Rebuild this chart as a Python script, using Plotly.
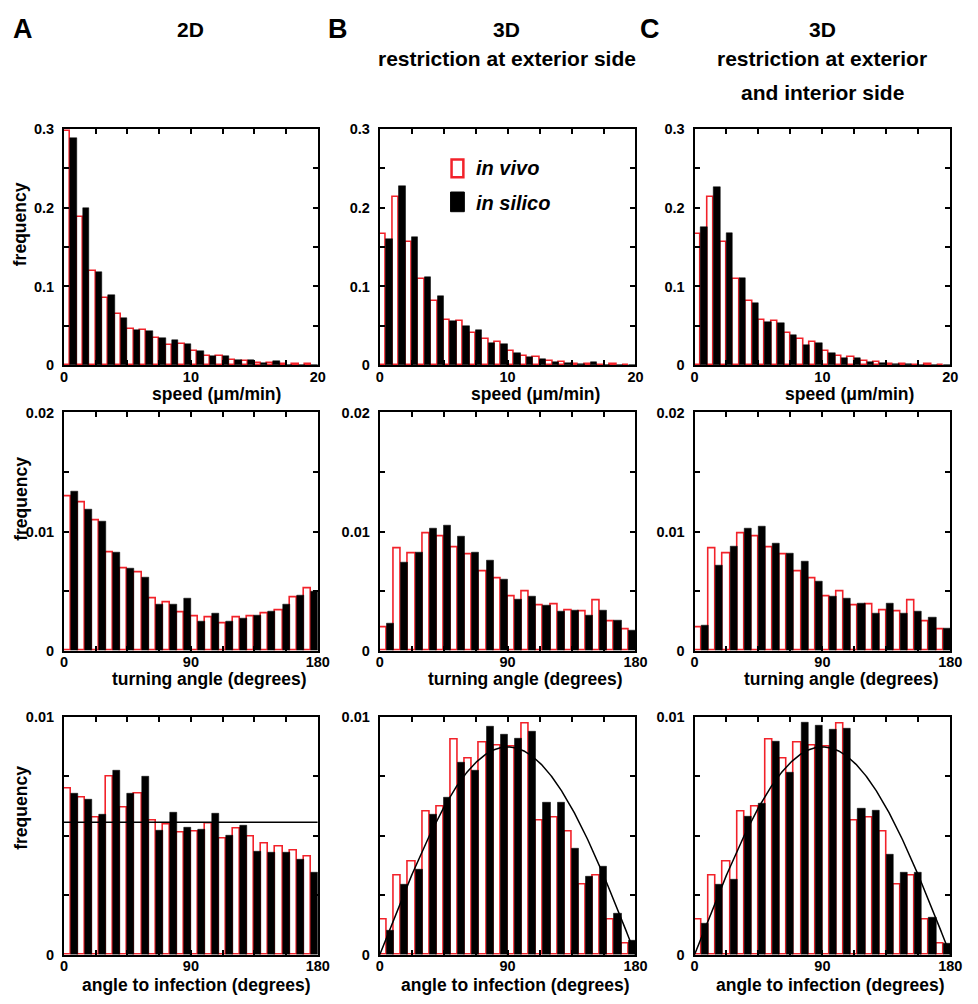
import numpy as np
import plotly.graph_objects as go

# ---------------------------------------------------------------------------
# Histogram data (frequency per bin); "vivo" = measured, "silico" = simulated
# ---------------------------------------------------------------------------
SPEED_BIN_LEFT = list(range(0, 20))          # um/min, bin width 1
ANGLE_BIN_LEFT = list(range(0, 180, 10))     # degrees, bin width 10

# speed distributions
speed_vivo_2d = [0.298, 0.188, 0.120, 0.085, 0.065, 0.046, 0.045, 0.034, 0.026, 0.027,
                 0.018, 0.012, 0.012, 0.007, 0.005, 0.0025, 0.003, 0.001, 0.001, 0.001]
speed_silico_2d = [0.288, 0.200, 0.118, 0.089, 0.060, 0.045, 0.044, 0.034, 0.032, 0.027,
                   0.018, 0.012, 0.012, 0.007, 0.007, 0.0025, 0.005, 0.0, 0.0, 0.0]
speed_vivo_3d = [0.166, 0.214, 0.157, 0.110, 0.081, 0.057, 0.056, 0.041, 0.033, 0.030,
                 0.018, 0.012, 0.010, 0.005, 0.004, 0.002, 0.002, 0.0005, 0.001, 0.0]
speed_silico_ext = [0.160, 0.228, 0.163, 0.112, 0.088, 0.056, 0.050, 0.045, 0.028, 0.027,
                    0.016, 0.010, 0.0075, 0.004, 0.003, 0.002, 0.004, 0.0005, 0.0, 0.0]
speed_silico_extint = [0.175, 0.226, 0.168, 0.111, 0.079, 0.055, 0.053, 0.038, 0.025, 0.028,
                       0.016, 0.009, 0.0085, 0.0045, 0.0025, 0.0017, 0.0017, 0.0005, 0.0, 0.0]

# turning angle distributions
turn_vivo_2d = [0.01295, 0.0124, 0.01096, 0.00826, 0.00694, 0.00656, 0.00438, 0.00405, 0.00322,
                0.00289, 0.00278, 0.00231, 0.00275, 0.00287, 0.00314, 0.00336, 0.00446, 0.00518]
turn_silico_2d = [0.01336, 0.01185, 0.01083, 0.00826, 0.00691, 0.00614, 0.00386, 0.00388, 0.00441,
                  0.00245, 0.00314, 0.00242, 0.0027, 0.00295, 0.00328, 0.00391, 0.0046, 0.00499]
turn_vivo_3d = [0.00193, 0.00857, 0.00818, 0.00983, 0.00956, 0.0087, 0.00807, 0.00664, 0.00606,
                0.00457, 0.00493, 0.0038, 0.00388, 0.00336, 0.00325, 0.00421, 0.00242, 0.00174]
turn_silico_ext = [0.00229, 0.00744, 0.00826, 0.01022, 0.0105, 0.00959, 0.00821, 0.00758, 0.006,
                   0.00433, 0.00455, 0.00375, 0.00331, 0.00339, 0.00298, 0.00339, 0.00256, 0.00171]
turn_silico_extint = [0.00215, 0.00716, 0.00873, 0.01022, 0.01044, 0.009, 0.00815, 0.00752, 0.00581,
                      0.00455, 0.00438, 0.00394, 0.00314, 0.004, 0.00311, 0.00328, 0.00281, 0.00187]

# angle-to-infection distributions
inf_vivo_2d = [0.00696, 0.00658, 0.00576, 0.00748, 0.00616, 0.00675, 0.00565, 0.00547, 0.00514,
               0.00517, 0.00551, 0.00489, 0.0053, 0.00496, 0.00466, 0.00453, 0.00437, 0.00412]
inf_silico_2d = [0.00678, 0.0065, 0.00588, 0.00775, 0.00675, 0.00748, 0.00523, 0.00596, 0.00533,
                 0.00526, 0.00591, 0.00499, 0.00544, 0.00435, 0.00431, 0.0043, 0.00398, 0.00344]
inf_vivo_3d = [0.00149, 0.00333, 0.00393, 0.00603, 0.00621, 0.00905, 0.00824, 0.00891, 0.0088,
               0.00876, 0.00972, 0.00565, 0.00577, 0.00518, 0.00296, 0.00333, 0.00149, 0.00045]
inf_silico_ext = [0.00103, 0.00296, 0.00357, 0.0059, 0.00658, 0.00806, 0.00775, 0.00959, 0.00924,
                  0.00908, 0.00935, 0.0064, 0.0064, 0.00445, 0.00328, 0.00369, 0.00172, 0.00059]
inf_silico_extint = [0.00131, 0.00296, 0.00314, 0.0058, 0.00636, 0.00895, 0.00764, 0.00975, 0.00963,
                     0.00945, 0.00949, 0.00613, 0.00606, 0.0042, 0.00347, 0.00343, 0.00154, 0.00045]

COLUMN_LETTERS = ["A", "B", "C"]
COLUMN_TITLE_LINES = [["2D"], ["3D", "restriction at exterior side"],
                      ["3D", "restriction at exterior", "and interior side"]]
X_LABELS = ["speed (\u03bcm/min)", "turning angle (degrees)", "angle to infection (degrees)"]

# ---------------------------------------------------------------------------
W, H = 978, 1004
FONT = "Liberation Sans, Arial, Helvetica, sans-serif"
RED = "#f2222a"

# panel frames in pixels: (left, right) per column, (top, bottom) per row
COL_PX = [(61, 319), (382, 642), (702, 962)]
ROW_PX = [(123, 363), (411, 653), (720, 962)]


def px_x(x):
    return x / W


def px_y(y):
    return 1 - y / H


rows = [
    dict(bins=SPEED_BIN_LEFT, width=1.0, xrange=[0, 20],
         xticks=[0, 2.5, 5, 7.5, 10, 12.5, 15, 17.5, 20],
         xlabels=["0", "", "", "", "10", "", "", "", "20"],
         yrange=[0, 0.3], yticks=[0, 0.05, 0.1, 0.15, 0.2, 0.25, 0.3],
         ylabels=["0", "", "0.1", "", "0.2", "", "0.3"],
         data=[(speed_vivo_2d, speed_silico_2d), (speed_vivo_3d, speed_silico_ext),
               (speed_vivo_3d, speed_silico_extint)]),
    dict(bins=ANGLE_BIN_LEFT, width=10.0, xrange=[0, 180],
         xticks=[0, 22.5, 45, 67.5, 90, 112.5, 135, 157.5, 180],
         xlabels=["0", "", "", "", "90", "", "", "", "180"],
         yrange=[0, 0.02], yticks=[0, 0.005, 0.01, 0.015, 0.02],
         ylabels=["0", "", "0.01", "", "0.02"],
         data=[(turn_vivo_2d, turn_silico_2d), (turn_vivo_3d, turn_silico_ext),
               (turn_vivo_3d, turn_silico_extint)]),
    dict(bins=ANGLE_BIN_LEFT, width=10.0, xrange=[0, 180],
         xticks=[0, 22.5, 45, 67.5, 90, 112.5, 135, 157.5, 180],
         xlabels=["0", "", "", "", "90", "", "", "", "180"],
         yrange=[0, 0.01], yticks=[0, 0.0025, 0.005, 0.0075, 0.01],
         ylabels=["0", "", "", "", "0.01"],
         data=[(inf_vivo_2d, inf_silico_2d), (inf_vivo_3d, inf_silico_ext),
               (inf_vivo_3d, inf_silico_extint)]),
]

fig = go.Figure()
layout_axes = {}
axis_font = dict(family=FONT, size=14.5, color="black", weight="bold")

for r, row in enumerate(rows):
    for c in range(3):
        idx = r * 3 + c + 1
        xa = "x" if idx == 1 else f"x{idx}"
        ya = "y" if idx == 1 else f"y{idx}"
        left = np.array(row["bins"], dtype=float)
        half = row["width"] / 2
        vivo, silico = row["data"][c]

        # measured: red outline, white fill, left half of each bin
        fig.add_trace(go.Bar(
            x=left + half / 2, y=vivo, width=half, xaxis=xa, yaxis=ya,
            marker=dict(color="white", line=dict(color=RED, width=1.6)),
            showlegend=False, name="in vivo"))
        # simulated: solid black, right half of each bin
        fig.add_trace(go.Bar(
            x=left + 1.5 * half, y=silico, width=half, xaxis=xa, yaxis=ya,
            marker=dict(color="black", line=dict(color="black", width=0.5)),
            showlegend=False, name="in silico"))

        if r == 2:
            if c == 0:
                # uniform reference density for a planar angle
                fig.add_trace(go.Scatter(
                    x=[0, 180], y=[1 / 180, 1 / 180], mode="lines", xaxis=xa, yaxis=ya,
                    line=dict(color="black", width=1.5), showlegend=False))
            else:
                # isotropic reference density on the sphere: (pi/360) sin(theta)
                theta = np.linspace(0, 180, 361)
                fig.add_trace(go.Scatter(
                    x=theta, y=np.pi / 360 * np.sin(np.radians(theta)), mode="lines",
                    xaxis=xa, yaxis=ya, line=dict(color="black", width=1.5),
                    showlegend=False))

        x0, x1 = COL_PX[c]
        y0, y1 = ROW_PX[r]
        key = "" if idx == 1 else str(idx)
        layout_axes[f"xaxis{key}"] = dict(
            domain=[px_x(x0), px_x(x1)], anchor=ya, range=row["xrange"],
            tickmode="array", tickvals=row["xticks"], ticktext=row["xlabels"],
            ticks="inside", ticklen=5, tickwidth=1.5, tickcolor="black",
            showline=True, linecolor="black", linewidth=2, mirror="ticks",
            showgrid=False, zeroline=False, tickfont=axis_font, fixedrange=True,
            ticklabelstandoff=-3)
        layout_axes[f"yaxis{key}"] = dict(
            domain=[px_y(y1), px_y(y0)], anchor=xa, range=row["yrange"],
            tickmode="array", tickvals=row["yticks"], ticktext=row["ylabels"],
            ticks="inside", ticklen=5, tickwidth=1.5, tickcolor="black",
            showline=True, linecolor="black", linewidth=2, mirror="ticks",
            showgrid=False, zeroline=False, tickfont=axis_font, fixedrange=True,
            ticklabelstandoff=5)

annotations = []
label_font = dict(family=FONT, size=17.5, color="black", weight="bold")

# column letters and headers
LETTER_X = [19, 340, 657]
TITLE_X = [190, 511, 832]
TITLE_LINE_Y = [22, 51, 86]
for c, letter in enumerate(COLUMN_LETTERS):
    annotations.append(dict(text=letter, x=px_x(LETTER_X[c]), y=px_y(21), xref="paper",
                            yref="paper", showarrow=False, xanchor="center", yanchor="middle",
                            font=dict(family=FONT, size=27, color="black", weight="bold")))
    for k, line in enumerate(COLUMN_TITLE_LINES[c]):
        annotations.append(dict(text=line, x=px_x(TITLE_X[c]), y=px_y(TITLE_LINE_Y[k]),
                                xref="paper", yref="paper", showarrow=False,
                                xanchor="center", yanchor="middle",
                                font=dict(family=FONT, size=21, color="black", weight="bold")))

# axis titles
X_LABEL_CENTERS = [[216, 540, 860], [208, 530, 851], [196, 520, 840]]
X_LABEL_Y = [392, 682, 993]
FREQ_Y = [220, 499, 813]
for r in range(3):
    for c in range(3):
        annotations.append(dict(text=X_LABELS[r], x=px_x(X_LABEL_CENTERS[r][c]),
                                y=px_y(X_LABEL_Y[r]), xref="paper", yref="paper",
                                showarrow=False, xanchor="center", yanchor="middle",
                                font=label_font, borderpad=0))
    annotations.append(dict(text="frequency", x=px_x(17), y=px_y(FREQ_Y[r]),
                            xref="paper", yref="paper", showarrow=False, textangle=-90,
                            xanchor="center", yanchor="middle", font=label_font, borderpad=0))

# legend (drawn in panel B, top row)
legend_font = dict(family=FONT, size=20, color="black", weight="bold", style="italic")
shapes = [
    dict(type="rect", xref="paper", yref="paper", x0=px_x(455), x1=px_x(467),
         y0=px_y(172), y1=px_y(154), line=dict(color=RED, width=2.5), fillcolor="white"),
    dict(type="rect", xref="paper", yref="paper", x0=px_x(454), x1=px_x(468),
         y0=px_y(207), y1=px_y(187), line=dict(color="black", width=1), fillcolor="black"),
]
annotations.append(dict(text="in vivo", x=px_x(478), y=px_y(163), xref="paper", yref="paper",
                        showarrow=False, xanchor="left", yanchor="middle", font=legend_font))
annotations.append(dict(text="in silico", x=px_x(478), y=px_y(198), xref="paper", yref="paper",
                        showarrow=False, xanchor="left", yanchor="middle", font=legend_font))

fig.update_layout(
    width=W, height=H, margin=dict(l=0, r=0, t=0, b=0),
    paper_bgcolor="white", plot_bgcolor="white",
    barmode="overlay", bargap=0, showlegend=False,
    annotations=annotations, shapes=shapes,
    **layout_axes,
)

fig.write_html("out.html")
